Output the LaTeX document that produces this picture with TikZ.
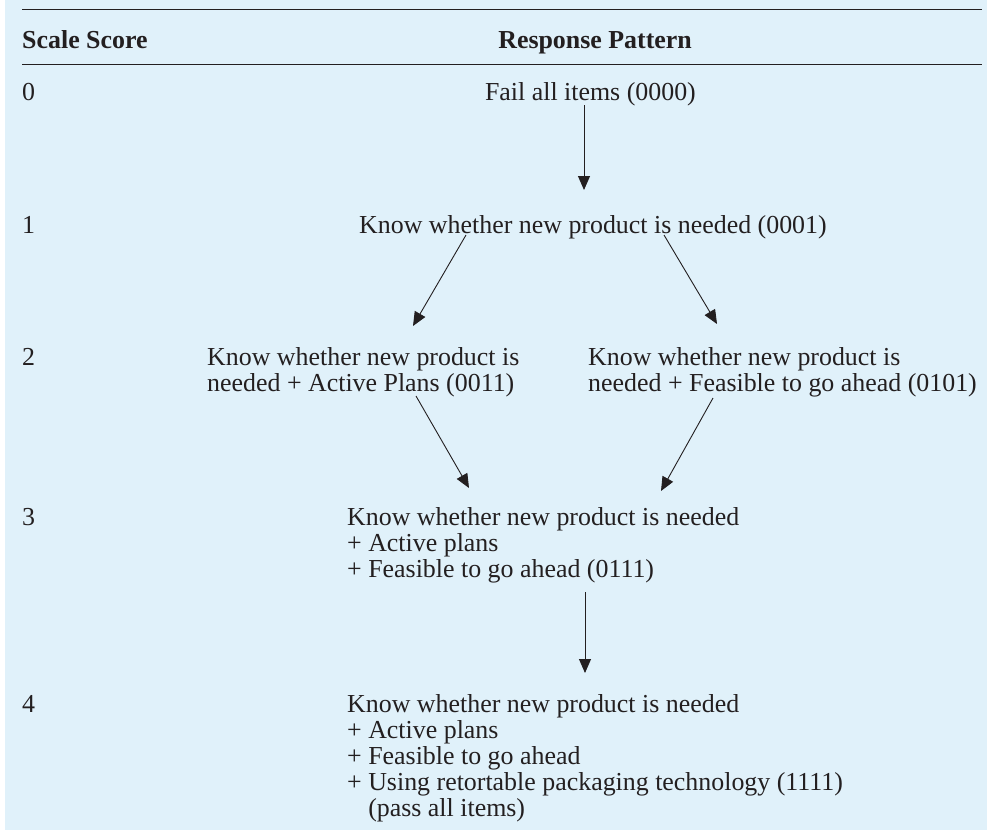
\documentclass[tikz,border=0pt]{standalone}
\usepackage{fontspec}
\setmainfont{Liberation Serif}
\usetikzlibrary{arrows.meta}
\definecolor{bgblue}{RGB}{224,241,250}
\definecolor{ink}{RGB}{35,31,32}
\newcommand{\tfont}{\fontsize{25.9}{26.2}\selectfont}
\newcommand{\lines}[1]{\begin{tabular}[t]{@{}l@{}}#1\end{tabular}}
\begin{document}
\begin{tikzpicture}[x=1pt,y=-1pt,
  txt/.style={inner sep=0pt, anchor=base west, text=ink, font=\tfont},
  hdr/.style={txt, font=\tfont\bfseries},
  rulestyle/.style={draw=ink, line width=0.9pt},
  arr/.style={draw=ink, line width=0.9pt, -{Triangle[length=14pt,width=12pt]}}]
\useasboundingbox (0,0) rectangle (987,830);
\fill[bgblue] (5,0) rectangle (987,830);
% rules
\draw[rulestyle] (22,9) -- (982,9);
\draw[rulestyle] (22,64) -- (982,64);
% header
\node[hdr] (hscore) at (22,48) {Scale Score};
\node[hdr, anchor=base east] (hresp) at (692,48) {Response Pattern};
% scale scores
\node[txt] (s0) at (22,100) {0};
\node[txt] (s1) at (22,233) {1};
\node[txt] (s2) at (22,365) {2};
\node[txt] (s3) at (22,525) {3};
\node[txt] (s4) at (22,712) {4};
% patterns
\node[txt, anchor=base east] (p0) at (696,100) {Fail all items (0000)};
\node[txt] (p1) at (359,233) {Know whether new product is needed (0001)};
\node[txt] (p2a) at (207,365) {\lines{Know whether new product is\\needed + Active Plans (0011)}};
\node[txt] (p2b) at (588,365) {\lines{Know whether new product is\\needed + Feasible to go ahead (0101)}};
\node[txt] (p3) at (347,525) {\lines{Know whether new product is needed\\+ Active plans\\+ Feasible to go ahead (0111)}};
\node[txt] (p4) at (347,712) {\lines{Know whether new product is needed\\+ Active plans\\+ Feasible to go ahead\\+ Using retortable packaging technology (1111)\\\phantom{+ }(pass all items)}};
% arrow end points
\coordinate (a0s) at (584,105);  \coordinate (a0e) at (584,190);
\coordinate (a1ls) at (466,235); \coordinate (a1le) at (413,326);
\coordinate (a1rs) at (664,235); \coordinate (a1re) at (717,324);
\coordinate (a2ls) at (416,396); \coordinate (a2le) at (469,488);
\coordinate (a2rs) at (713,398); \coordinate (a2re) at (661,491);
\coordinate (a3s) at (585,592);  \coordinate (a3e) at (585,673);
\draw[arr] (a0s) -- (a0e);
\draw[arr] (a1ls) -- (a1le);
\draw[arr] (a1rs) -- (a1re);
\draw[arr] (a2ls) -- (a2le);
\draw[arr] (a2rs) -- (a2re);
\draw[arr] (a3s) -- (a3e);
\end{tikzpicture}
\end{document}
